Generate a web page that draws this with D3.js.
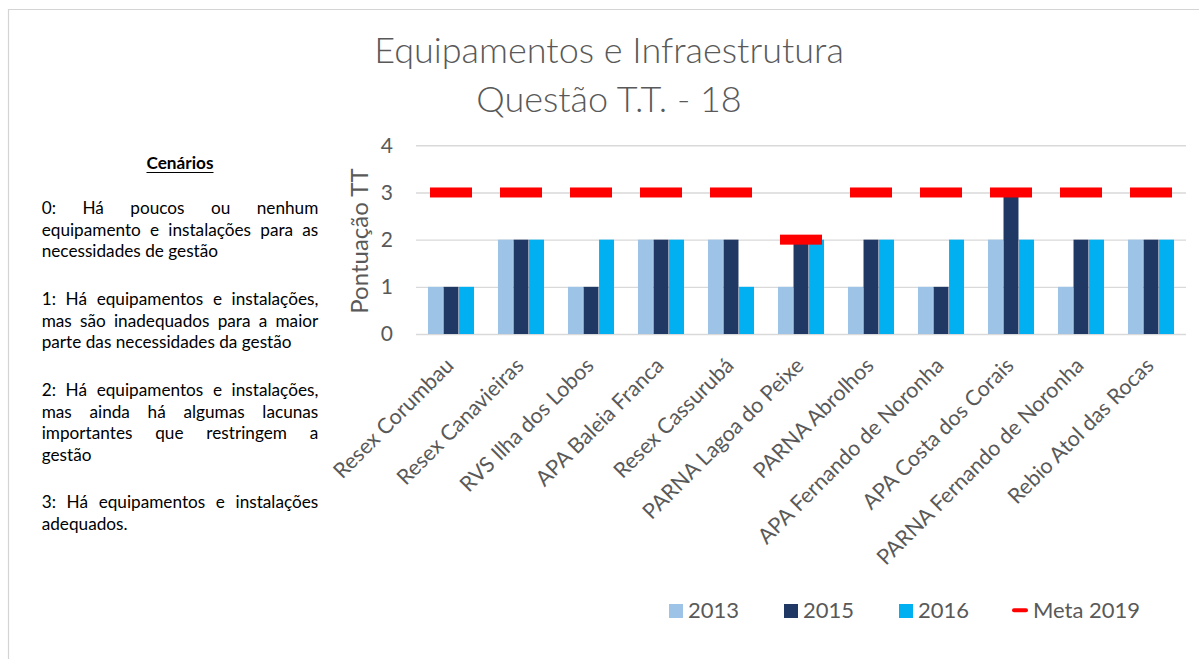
<!DOCTYPE html>
<html><head><meta charset="utf-8">
<script src="https://cdn.jsdelivr.net/npm/d3@7"></script>
<style>body{margin:0;background:#fff}svg{display:block}</style>
</head><body>
<svg id="chart" width="1199" height="659"></svg>
<script>
const categories = ["Resex Corumbau","Resex Canavieiras","RVS Ilha dos Lobos","APA Baleia Franca","Resex Cassurubá","PARNA Lagoa do Peixe","PARNA Abrolhos","APA Fernando de Noronha","APA Costa dos Corais","PARNA Fernando de Noronha","Rebio Atol das Rocas"];
const years = ["2013","2015","2016"];
const values2013 = [1,2,1,2,2,1,1,1,2,1,2];
const values2015 = [1,2,1,2,2,2,2,1,3,2,2];
const values2016 = [1,2,2,2,1,2,2,2,2,2,2];
const meta2019 = [3,3,3,3,3,2,3,3,3,3,3];
const metaLabel = "Meta 2019";
const yTicks = [0,1,2,3,4];
const yTitle = "Pontuação TT";
const titleLines = ["Equipamentos e Infraestrutura","Questão T.T. - 18"];
const scenarioTitle = "Cenários";
const scenarioParagraphs = [
  ["0: Há poucos ou nenhum","equipamento e instalações para as","necessidades de gestão"],
  ["1: Há equipamentos e instalações,","mas são inadequados para a maior","parte das necessidades da gestão"],
  ["2: Há equipamentos e instalações,","mas ainda há algumas lacunas","importantes que restringem a","gestão"],
  ["3: Há equipamentos e instalações","adequados."]
];

const seriesValues = [values2013, values2015, values2016];
const colors = ["#9DC3E6","#203864","#00B0F0"];
const metaColor = "#FF0000";
const gray = "#595959";
const gridColor = "#D9D9D9";
const font = "Lato, 'Open Sans', sans-serif";

const svg = d3.select("#chart");
svg.style("font-family", font);

// frame border
svg.append("path").attr("d","M8.5,659 L8.5,9.5 L1199,9.5").attr("fill","none").attr("stroke","#d4d4d4").attr("stroke-width",1.2);

// title
svg.append("g").selectAll("text").data(titleLines).join("text")
  .attr("x", 609).attr("y", (d,i)=> 63 + i*49)
  .attr("text-anchor","middle").attr("fill", gray)
  .attr("font-size", 36).attr("font-weight", 300).text(d=>d);

// scales
const x0 = d3.scaleBand().domain(categories).range([416,1186]).paddingInner(1/3).paddingOuter(1/6);
const x1 = d3.scaleBand().domain(years).range([0, x0.bandwidth()]);
const y = d3.scaleLinear().domain([0,4]).range([334,145.3]);

// gridlines + y tick labels
const yAxis = d3.axisLeft(y).tickValues(yTicks).tickSize(-(1186-416)).tickFormat(d3.format("d")).tickPadding(23);
const ga = svg.append("g").attr("transform","translate(416,0)").call(yAxis);
ga.select(".domain").remove();
ga.selectAll(".tick line").attr("stroke", gridColor).attr("stroke-width",1.4);
ga.selectAll(".tick text").attr("fill", gray).attr("font-size", 21).attr("font-family", font);

// bars
const groups = svg.append("g").selectAll("g").data(categories).join("g")
  .attr("transform", d=>`translate(${x0(d)},0)`);
groups.selectAll("rect").data((d,i)=> years.map((yr,k)=>({yr, v: seriesValues[k][i], k})))
  .join("rect")
  .attr("x", d=> x1(d.yr)+0.3)
  .attr("width", x1.bandwidth()-0.6)
  .attr("y", d=> y(d.v))
  .attr("height", d=> y(0)-y(d.v))
  .attr("fill", d=> colors[d.k]);

// meta dashes
svg.append("g").selectAll("rect").data(categories).join("rect")
  .attr("x", (d)=> x0(d)+x0.bandwidth()/2 - 21)
  .attr("width", 42)
  .attr("y", (d,i)=> y(meta2019[i]) - 5)
  .attr("height", 10)
  .attr("fill", metaColor);

// x labels
svg.append("g").selectAll("text").data(categories).join("text")
  .attr("transform", d=>`translate(${x0(d)+x0.bandwidth()/2+4},367) rotate(-45)`)
  .attr("text-anchor","end").attr("fill", gray).attr("font-size", 21.5).text(d=>d);

// y title
svg.append("text").attr("transform","translate(368,241) rotate(-90)")
  .attr("text-anchor","middle").attr("fill", gray).attr("font-size", 24).text(yTitle);

// legend
const legendX = [669, 784, 899];
years.forEach((yr,k)=>{
  svg.append("rect").attr("x", legendX[k]).attr("y", 604).attr("width", 14).attr("height", 14).attr("fill", colors[k]);
  svg.append("text").attr("x", legendX[k]+19).attr("y", 618).attr("fill", gray).attr("font-size", 22).text(yr);
});
svg.append("line").attr("x1", 1014).attr("x2", 1026).attr("y1", 610.3).attr("y2", 610.3)
  .attr("stroke", metaColor).attr("stroke-width", 4).attr("stroke-linecap","round");
svg.append("text").attr("x", 1033).attr("y", 618).attr("fill", gray).attr("font-size", 22).text(metaLabel);

// scenarios panel
const tx0 = 41.7, tx1 = 318.3;
const ts = svg.append("g").attr("font-size", 17.2).attr("fill", "#000");
const st = ts.append("text").attr("x", 180).attr("y", 169.3).attr("text-anchor","middle").attr("font-weight", 700).text(scenarioTitle);
const stw = st.node().getComputedTextLength();
ts.append("line").attr("x1", 180-stw/2).attr("x2", 180+stw/2).attr("y1", 172.5).attr("y2", 172.5).attr("stroke","#000").attr("stroke-width",1.2);

let base = 214;
const lineH = 21.7, paraGap = 47.5;
scenarioParagraphs.forEach((para, pi)=>{
  para.forEach((line, li)=>{
    const yy = base + li*lineH;
    const isLast = li === para.length-1;
    if (isLast) {
      ts.append("text").attr("x", tx0).attr("y", yy).text(line);
    } else {
      const words = line.split(" ");
      const nodes = words.map(w=> ts.append("text").attr("y", yy).text(w));
      const widths = nodes.map(n=> n.node().getComputedTextLength());
      const gap = (tx1 - tx0 - d3.sum(widths)) / (words.length-1);
      let xx = tx0;
      nodes.forEach((n,i)=>{ n.attr("x", xx); xx += widths[i] + gap; });
    }
  });
  base += (para.length-1)*lineH + paraGap;
});
</script>
</body></html>
